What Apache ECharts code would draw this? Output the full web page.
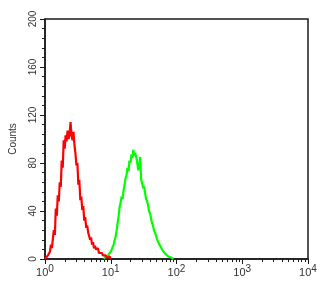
<!DOCTYPE html>
<html>
<head>
<meta charset="utf-8">
<script src="https://cdn.jsdelivr.net/npm/echarts@6/dist/echarts.min.js"></script>
<style>
html,body{margin:0;padding:0;background:#fff;}
#chart{width:327px;height:285px;}
</style>
</head>
<body>
<div id="chart"></div>
<script>
// x values are in decades (log10 of channel), y values are counts
const redCurve = [[0,0],[0.03,1],[0.045,3],[0.06,2],[0.075,6],[0.09,12],[0.105,9],[0.12,17],[0.134,24],[0.15,20],[0.164,42],[0.18,36],[0.194,53],[0.21,48],[0.224,64],[0.24,60],[0.254,82],[0.27,76],[0.284,99],[0.3,92],[0.313,103],[0.328,98],[0.343,107],[0.358,100],[0.373,103],[0.388,114],[0.403,104],[0.418,99],[0.433,106],[0.448,95],[0.463,88],[0.478,78],[0.493,80],[0.507,62],[0.522,66],[0.537,49],[0.552,52],[0.567,41],[0.582,44],[0.597,32],[0.612,35],[0.627,26],[0.642,28],[0.657,22],[0.672,19],[0.687,16],[0.7,18],[0.716,12],[0.73,14],[0.746,9],[0.76,11],[0.775,8],[0.79,7],[0.806,9],[0.82,5],[0.836,6],[0.85,4],[0.865,5],[0.88,3],[0.895,4],[0.91,2],[0.925,3],[0.94,1],[0.955,2],[0.97,1],[0.985,2],[1.0,0],[1.01,0]];
const greenCurve = [[0.896,0],[0.92,2],[0.94,1],[0.955,2],[0.97,4],[0.985,3],[1.0,6],[1.015,7],[1.03,10],[1.045,12],[1.06,16],[1.075,19],[1.09,24],[1.105,30],[1.12,36],[1.134,43],[1.15,47],[1.164,52],[1.18,50],[1.194,57],[1.21,62],[1.224,67],[1.24,70],[1.254,76],[1.27,73],[1.284,82],[1.3,80],[1.313,87],[1.328,84],[1.343,91],[1.358,86],[1.373,88],[1.388,85],[1.403,80],[1.418,74],[1.433,78],[1.448,85],[1.463,66],[1.478,63],[1.493,59],[1.507,61],[1.522,55],[1.537,50],[1.552,48],[1.567,45],[1.582,40],[1.597,38],[1.612,34],[1.627,30],[1.642,28],[1.657,24],[1.672,22],[1.687,20],[1.7,17],[1.716,16],[1.73,13],[1.746,12],[1.761,10],[1.776,9],[1.79,7],[1.806,8],[1.82,6],[1.836,4],[1.85,5],[1.866,3],[1.88,2],[1.895,3],[1.91,1],[1.93,1],[1.955,0]];
const decadeExponents = [0,1,2,3,4];
const minorMultipliers = [2,3,4,5,6,7,8,9];
const yTicks = [0,40,80,120,160,200];
const yTitle = 'Counts';

const minorTickValues = [];
decadeExponents.slice(0,-1).forEach(e => minorMultipliers.forEach(m => minorTickValues.push(e + Math.log10(m))));

const chart = echarts.init(document.getElementById('chart'), null, {renderer:'canvas'});
const axisColor = '#1a1a1a';
const textColor = '#333';
const font = 'Liberation Sans';
chart.setOption({
  animation:false,
  backgroundColor:'#fff',
  grid:{left:40,right:19,top:19,bottom:26,show:true,borderColor:axisColor,borderWidth:1.5,backgroundColor:'transparent'},
  xAxis:[{
    type:'value',min:0,max:4,interval:1,
    axisLine:{show:true,lineStyle:{color:axisColor,width:1.5}},
    axisTick:{show:true,inside:false,length:5,lineStyle:{color:axisColor}},
    splitLine:{show:false},
    axisLabel:{
      margin:5,color:textColor,fontFamily:font,
      formatter:v=>'{b|10}{s|'+v+'}',
      rich:{b:{fontSize:11,fontFamily:font,color:textColor},s:{fontSize:10,fontFamily:font,color:textColor,padding:[0,0,8,0]}}
    }
  },{
    type:'value',min:0,max:4,position:'bottom',
    axisLine:{show:false},
    axisTick:{show:true,inside:false,length:3,customValues:minorTickValues,lineStyle:{color:axisColor}},
    axisLabel:{show:false},splitLine:{show:false}
  }],
  yAxis:{
    type:'value',min:0,max:200,interval:40,
    name:yTitle,nameLocation:'middle',nameGap:27,nameRotate:90,
    nameTextStyle:{fontSize:10,fontFamily:font,color:textColor},
    axisLine:{show:true,lineStyle:{color:axisColor,width:1.5}},
    axisTick:{show:true,inside:false,length:5,lineStyle:{color:axisColor}},
    minorTick:{show:true,splitNumber:5,length:3,lineStyle:{color:axisColor}},
    splitLine:{show:false},minorSplitLine:{show:false},
    axisLabel:{rotate:90,margin:7,fontSize:10,fontFamily:font,color:textColor,formatter:v=>yTicks.includes(v)?String(v):''}
  },
  series:[
    {type:'line',data:redCurve,showSymbol:false,lineStyle:{color:'#ff0000',width:2.2},z:3},
    {type:'line',data:greenCurve,showSymbol:false,lineStyle:{color:'#00ff00',width:2.2},z:2}
  ]
});
</script>
</body>
</html>
